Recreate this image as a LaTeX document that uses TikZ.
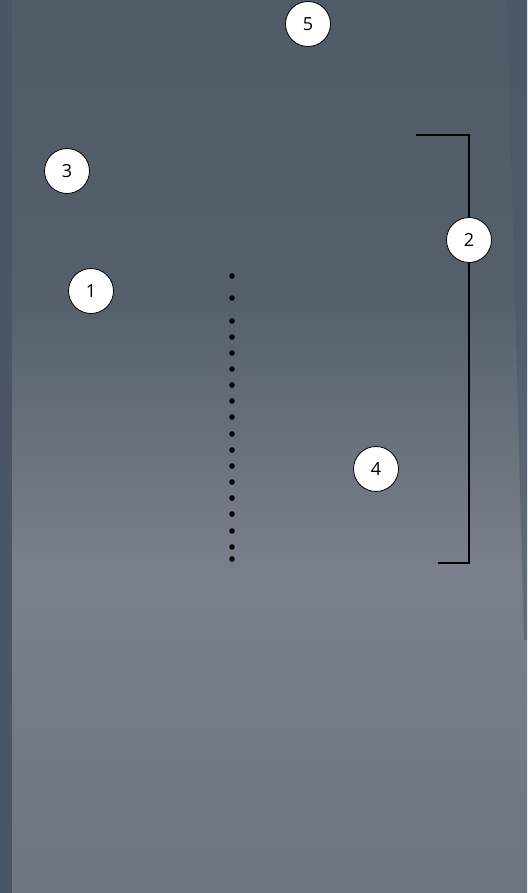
\documentclass[tikz,border=0pt]{standalone}
\usepackage{fontspec}
\setmainfont{Open Sans}
\definecolor{bgTop}{HTML}{505B68}
\definecolor{bgUpper}{HTML}{56606D}
\definecolor{bgMid}{HTML}{7A808B}
\definecolor{bgLow}{HTML}{6E7480}
\definecolor{bgEdge}{HTML}{4A5666}
\usetikzlibrary{positioning}
\tikzset{
  badge/.style={circle, draw=black, thick, fill=white, minimum size=45pt,
                inner sep=0pt, font=\fontsize{18}{18}\selectfont},
  bracketline/.style={draw=black, line width=2pt},
  dotmark/.style={fill=black}
}

\begin{document}
\begin{tikzpicture}[x=1pt, y=-1pt]
\useasboundingbox (0,0) rectangle (527,893);
% background
\shade[top color=bgTop, bottom color=bgUpper] (0,0) rectangle (527,300);
\shade[top color=bgUpper, bottom color=bgMid] (0,300) rectangle (527,570);
\shade[top color=bgMid, bottom color=bgLow] (0,570) rectangle (527,893);
\fill[bgEdge] (0,0) rectangle (12,893);
\fill[bgEdge, opacity=0.5] (507,0) -- (527,0) -- (527,640) -- (524,640) -- cycle;

% dotted line
\foreach \y in {276,298,321,337,353,369,385,401,417,434,450,466,482,498,514,531,547,559}
  \fill[dotmark] (232,\y) circle (2.8pt);

% bracket
\coordinate (brTop) at (416,135);
\coordinate (brBot) at (438,563);
\draw[bracketline] (brTop) -- (469,135) -- (469,563) -- (brBot);

% badges
\node[badge] (n5) at (308,24) {5};
\node[badge] (n3) at (67,171) {3};
\node[badge] (n2) at (469,240) {2};
\node[badge] (n1) at (91,291) {1};
\node[badge] (n4) at (376,469) {4};
\end{tikzpicture}
\end{document}
